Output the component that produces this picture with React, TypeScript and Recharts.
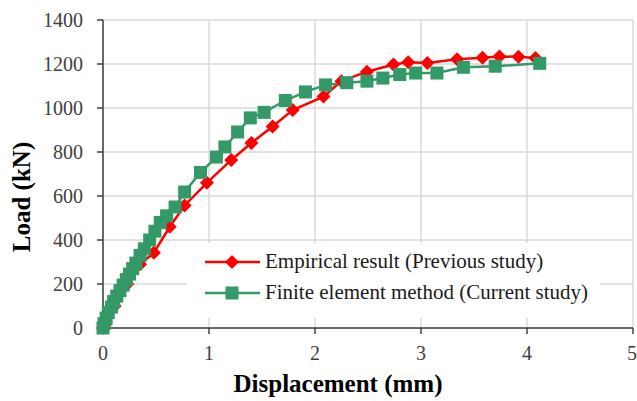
import { CartesianGrid, Line, LineChart, XAxis, YAxis } from "recharts";

const xTicks = [0, 1, 2, 3, 4, 5];
const yTicks = [0, 200, 400, 600, 800, 1000, 1200, 1400];

const empiricalDisp = [0, 0.02, 0.11, 0.23, 0.35, 0.48, 0.63, 0.77, 0.98, 1.21, 1.4, 1.6, 1.79, 2.08, 2.25, 2.49, 2.74, 2.88, 3.06, 3.34, 3.58, 3.74, 3.92, 4.08];
const empiricalLoad = [0, 15, 100, 200, 290, 342, 460, 557, 660, 764, 841, 916, 991, 1052, 1122, 1165, 1198, 1208, 1205, 1222, 1228, 1234, 1233, 1227];

const femDisp = [0, 0.01, 0.03, 0.05, 0.08, 0.1, 0.13, 0.16, 0.19, 0.22, 0.25, 0.28, 0.31, 0.35, 0.39, 0.44, 0.49, 0.54, 0.6, 0.68, 0.77, 0.92, 1.07, 1.15, 1.27, 1.39, 1.52, 1.72, 1.91, 2.1, 2.3, 2.49, 2.64, 2.8, 2.95, 3.15, 3.4, 3.7, 4.12];
const femLoad = [0, 20, 45, 70, 95, 120, 145, 170, 195, 220, 245, 270, 295, 330, 360, 400, 440, 480, 510, 550, 618, 707, 777, 823, 891, 955, 980, 1034, 1073, 1105, 1115, 1122, 1136, 1152, 1159, 1159, 1185, 1190, 1203];

const RED = "#ff0000";
const GREEN = "#339966";
const AXIS = "#404040";
const GRID = "#d9d9d9";
const FONT = '"Liberation Serif", "Times New Roman", serif';

const empiricalData = empiricalDisp.map((d, i) => ({ disp: d, load: empiricalLoad[i] }));
const femData = femDisp.map((d, i) => ({ disp: d, load: femLoad[i] }));

const diamond = (cx: number, cy: number, r: number) =>
    `${cx},${cy - r} ${cx + r},${cy} ${cx},${cy + r} ${cx - r},${cy}`;

const DiamondDot = (props: any) => {
    const { cx, cy, index } = props;
    if (cx == null || cy == null) return <g key={`e-${index}`} />;
    return <polygon key={`e-${index}`} points={diamond(cx, cy, 7)} fill={RED} />;
};

const SquareDot = (props: any) => {
    const { cx, cy, index } = props;
    if (cx == null || cy == null) return <g key={`f-${index}`} />;
    return <rect key={`f-${index}`} x={cx - 6.5} y={cy - 6.5} width={13} height={13} fill={GREEN} />;
};

const LegendBox = () => (
    <div
        style={{
            position: "absolute",
            left: 187,
            top: 243,
            width: 413,
            height: 75,
            background: "#fff",
            fontFamily: FONT,
            fontSize: 21,
            color: "#1a1a1a",
        }}
    >
        <svg width={80} height={75} style={{ position: "absolute", left: 0, top: 0 }}>
            <line x1={18} y1={19} x2={73} y2={19} stroke={RED} strokeWidth={2.5} />
            <polygon points={diamond(45, 19, 7)} fill={RED} />
            <line x1={18} y1={50} x2={73} y2={50} stroke={GREEN} strokeWidth={2.5} />
            <rect x={38.5} y={43.5} width={13} height={13} fill={GREEN} />
        </svg>
        <div style={{ position: "absolute", left: 78, top: 5, whiteSpace: "nowrap", lineHeight: "27px" }}>
            Empirical result (Previous study)
        </div>
        <div style={{ position: "absolute", left: 78, top: 36, whiteSpace: "nowrap", lineHeight: "27px" }}>
            Finite element method (Current study)
        </div>
    </div>
);

export default function App() {
    return (
        <div
            style={{
                position: "absolute",
                left: 0,
                top: 0,
                width: 637,
                height: 401,
                background: "#fff",
                fontFamily: FONT,
            }}
        >
            <LineChart width={637} height={401} margin={{ top: 20, right: 4, left: 0, bottom: 0 }}>
                <CartesianGrid stroke={GRID} strokeWidth={1.5} />
                <XAxis
                    type="number"
                    dataKey="disp"
                    domain={[0, 5]}
                    ticks={xTicks}
                    height={73}
                    stroke={AXIS}
                    strokeWidth={1.5}
                    tickSize={6}
                    tickMargin={12}
                    tick={{ fill: AXIS, fontSize: 20, fontFamily: FONT }}
                    allowDuplicatedCategory={false}
                    label={{
                        value: "Displacement (mm)",
                        position: "center",
                        dx: -30,
                        dy: 19,
                        style: { fill: "#000", fontSize: 25, fontWeight: "bold", fontFamily: FONT },
                    }}
                />
                <YAxis
                    type="number"
                    dataKey="load"
                    domain={[0, 1400]}
                    ticks={yTicks}
                    width={103}
                    stroke={AXIS}
                    strokeWidth={1.5}
                    tickSize={6}
                    tickMargin={14}
                    tick={{ fill: AXIS, fontSize: 20, fontFamily: FONT }}
                    label={{
                        value: "Load (kN)",
                        angle: -90,
                        position: "center",
                        dx: -30,
                        dy: 23,
                        style: { fill: "#000", fontSize: 25, fontWeight: "bold", fontFamily: FONT },
                    }}
                />
                <Line
                    data={empiricalData}
                    dataKey="load"
                    type="linear"
                    stroke={RED}
                    strokeWidth={2.5}
                    dot={DiamondDot}
                    activeDot={false}
                    isAnimationActive={false}
                />
                <Line
                    data={femData}
                    dataKey="load"
                    type="linear"
                    stroke={GREEN}
                    strokeWidth={2.5}
                    dot={SquareDot}
                    activeDot={false}
                    isAnimationActive={false}
                />
            </LineChart>
            <LegendBox />
        </div>
    );
}
